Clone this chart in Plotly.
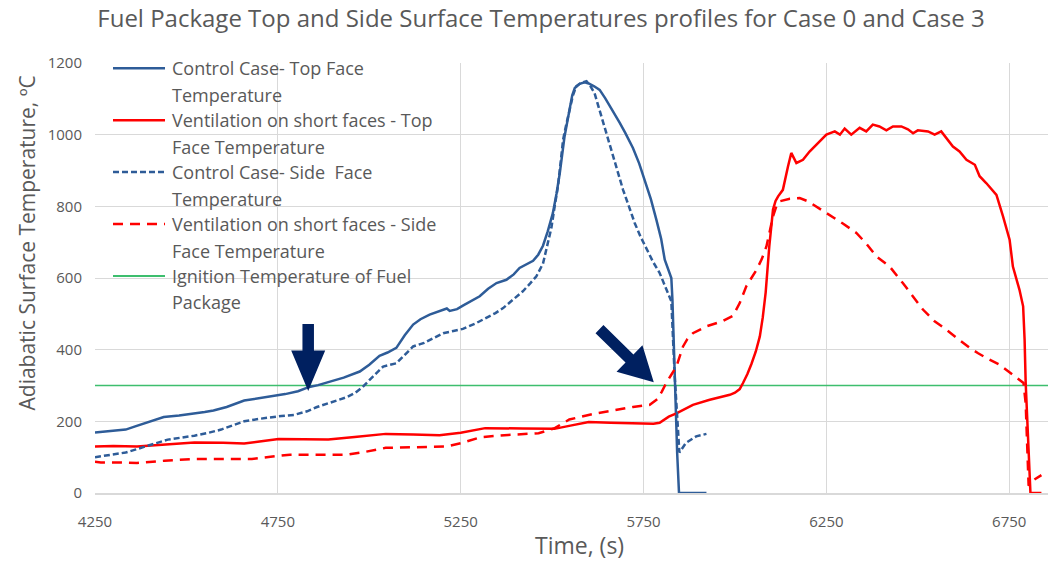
import math
import plotly.graph_objects as go

# ---------------------------------------------------------------- data
# Control case (Case 0) - top face surface temperature
control_top_time = [4250, 4290, 4334, 4360, 4386, 4410, 4438, 4480, 4522, 4550, 4574,
                    4610, 4658, 4700, 4731, 4770, 4805, 4836, 4860, 4892, 4930, 4974,
                    5000, 5028, 5050, 5074, 5097, 5120, 5140, 5165, 5185, 5202, 5212,
                    5220, 5240, 5256, 5280, 5302, 5325, 5348, 5375, 5395, 5411, 5430,
                    5448, 5462, 5475, 5488, 5502, 5512, 5521, 5534, 5548, 5555, 5562,
                    5575, 5589, 5600, 5615, 5630, 5645, 5662, 5685, 5700, 5721, 5738,
                    5753, 5770, 5785, 5798, 5808, 5818, 5826, 5829, 5836, 5842, 5847,
                    5922]
control_top_temp = [169, 172, 177, 186, 195, 204, 212, 216, 221, 226, 230,
                    240, 258, 264, 270, 276, 284, 296, 301, 311, 322, 339,
                    358, 383, 392, 405, 440, 470, 485, 498, 505, 512, 515,
                    508, 513, 523, 536, 549, 570, 586, 595, 610, 628, 638,
                    648, 665, 690, 730, 781, 835, 893, 995, 1079, 1110, 1130,
                    1142, 1146, 1143, 1135, 1125, 1102, 1074, 1033, 1005, 963, 920,
                    874, 820, 763, 710, 651, 620, 600, 540, 300, 110, 0,
                    0]

# Control case (Case 0) - side face surface temperature
control_side_time = [4250, 4290, 4334, 4360, 4386, 4420, 4449, 4490, 4522, 4560, 4595,
                     4630, 4658, 4700, 4731, 4760, 4794, 4830, 4857, 4892, 4915, 4940,
                     4962, 4982, 5010, 5038, 5074, 5097, 5120, 5150, 5175, 5202, 5230,
                     5256, 5290, 5320, 5345, 5366, 5395, 5420, 5440, 5457, 5475, 5487,
                     5498, 5507, 5516, 5523, 5530, 5539, 5548, 5557, 5566, 5580, 5594,
                     5605, 5616, 5627, 5639, 5652, 5666, 5680, 5694, 5710, 5726, 5742,
                     5758, 5776, 5794, 5810, 5826, 5835, 5848, 5866, 5894, 5922]
control_side_temp = [100, 106, 113, 121, 130, 140, 149, 155, 160, 168, 177,
                     190, 200, 207, 212, 215, 218, 228, 240, 251, 259, 268,
                     280, 296, 325, 353, 362, 386, 409, 419, 432, 446, 452,
                     458, 473, 488, 502, 516, 540, 563, 585, 605, 640, 690,
                     740, 800, 856, 920, 986, 1030, 1070, 1110, 1135, 1145, 1149,
                     1135, 1116, 1078, 1037, 988, 939, 892, 846, 800, 753, 715,
                     680, 645, 614, 575, 535, 330, 113, 140, 158, 165]

# Ventilation on short faces (Case 3) - top face surface temperature
vent_top_time = [4250, 4300, 4365, 4450, 4522, 4600, 4658, 4700, 4752, 4820, 4888,
                 4960, 5045, 5120, 5192, 5250, 5317, 5420, 5506, 5550, 5600, 5660,
                 5712, 5777, 5794, 5819, 5840, 5860, 5885, 5931, 5960, 5986, 6000,
                 6013, 6022, 6034, 6045, 6057, 6068, 6076, 6084, 6094, 6104, 6111,
                 6118, 6131, 6145, 6154, 6168, 6186, 6204, 6218, 6232, 6250, 6273,
                 6287, 6300, 6318, 6341, 6359, 6377, 6395, 6414, 6432, 6455, 6473,
                 6487, 6500, 6528, 6546, 6564, 6578, 6596, 6614, 6633, 6656, 6669,
                 6687, 6705, 6715, 6733, 6751, 6760, 6778, 6788, 6792, 6795, 6801,
                 6808, 6838]
vent_top_temp = [130, 131, 130, 136, 141, 140, 138, 144, 151, 150, 149,
                 156, 165, 163, 161, 168, 181, 180, 179, 188, 198, 196,
                 195, 193, 196, 213, 222, 232, 246, 260, 267, 274, 280,
                 290, 307, 332, 360, 395, 437, 490, 560, 690, 791, 815,
                 828, 846, 911, 949, 921, 930, 953, 968, 981, 1000, 1009,
                 1000, 1017, 1000, 1019, 1009, 1028, 1023, 1012, 1023, 1023, 1015,
                 1004, 1012, 1009, 1000, 1009, 991, 967, 953, 930, 916, 884,
                 865, 845, 832, 772, 707, 632, 567, 521, 428, 307, 167,
                 0, 0]

# Ventilation on short faces (Case 3) - side face surface temperature
vent_side_time = [4250, 4266, 4320, 4365, 4440, 4522, 4600, 4679, 4730, 4783, 4860,
                  4940, 4990, 5045, 5130, 5213, 5254, 5306, 5380, 5463, 5505, 5547,
                  5610, 5673, 5721, 5767, 5788, 5800, 5812, 5826, 5840, 5858, 5870,
                  5885, 5922, 5967, 5995, 6013, 6031, 6045, 6059, 6073, 6086, 6095,
                  6104, 6113, 6122, 6150, 6177, 6200, 6225, 6250, 6295, 6332, 6360,
                  6387, 6423, 6459, 6485, 6514, 6545, 6578, 6610, 6642, 6665, 6687,
                  6724, 6760, 6789, 6795, 6803, 6815, 6838]
vent_side_temp = [87, 85, 85, 84, 90, 95, 95, 95, 101, 107, 107,
                  107, 115, 126, 128, 130, 140, 156, 162, 167, 180, 205,
                  220, 232, 240, 246, 262, 283, 307, 330, 353, 409, 430,
                  446, 465, 480, 495, 530, 577, 600, 623, 652, 688, 730,
                  772, 800, 814, 821, 823, 814, 798, 781, 752, 726, 695,
                  660, 632, 586, 550, 512, 480, 456, 430, 405, 390, 377,
                  358, 330, 307, 250, 20, 35, 50]

IGNITION_TEMP = 300

series_names = [
    "Control Case- Top Face<br>Temperature",
    "Ventilation on short faces - Top<br>Face Temperature",
    "Control Case- Side  Face<br>Temperature",
    "Ventilation on short faces - Side<br>Face Temperature",
    "Ignition Temperature of Fuel<br>Package",
]

x_ticks = [4250, 4750, 5250, 5750, 6250, 6750]
y_ticks = [0, 200, 400, 600, 800, 1000, 1200]

# Points where the surface reaches the ignition temperature (arrow tips)
ignition_marks_time = [4833, 5778]
ignition_marks_temp = [285, 309]

# ---------------------------------------------------------------- styling
W, H = 1051, 563
M_L, M_R, M_T, M_B = 95, 3, 63, 70
X_RANGE = [4250, 6856]
Y_RANGE = [0, 1200]

BLUE = "#2E5C98"
RED = "#FF0000"
GREEN = "#3DBE6E"
NAVY = "#002060"
TEXT = "#595959"
GRID = "#D9D9D9"
FONT = "Open Sans, Liberation Sans, sans-serif"

styles = [
    dict(color=BLUE, width=2.5, dash="solid"),
    dict(color=RED, width=2.5, dash="solid"),
    dict(color=BLUE, width=2.5, dash="6px,3px"),
    dict(color=RED, width=2.5, dash="10px,7px"),
    dict(color=GREEN, width=1.5, dash="solid"),
]

plot_w = W - M_L - M_R
plot_h = H - M_T - M_B


def px_x(px):
    """Pixel column -> paper fraction of the plot area."""
    return (px - M_L) / plot_w


def px_y(py):
    """Pixel row (from top) -> paper fraction of the plot area."""
    return (H - M_B - py) / plot_h


def block_arrow(direction_deg, length, head_len, head_w, shaft_w):
    """Closed SVG path (pixels, y up) of a block arrow whose tip is at the origin."""
    a = math.radians(direction_deg)
    ux, uy = -math.cos(a), -math.sin(a)      # tip -> tail
    px, py = -uy, ux                        # perpendicular
    bx, by = ux * head_len, uy * head_len    # head base centre
    tx, ty = ux * length, uy * length        # tail centre
    pts = [
        (0, 0),
        (bx + px * head_w / 2, by + py * head_w / 2),
        (bx + px * shaft_w / 2, by + py * shaft_w / 2),
        (tx + px * shaft_w / 2, ty + py * shaft_w / 2),
        (tx - px * shaft_w / 2, ty - py * shaft_w / 2),
        (bx - px * shaft_w / 2, by - py * shaft_w / 2),
        (bx - px * head_w / 2, by - py * head_w / 2),
    ]
    return "M" + " L".join(f"{x:.2f},{y:.2f}" for x, y in pts) + " Z"


# ---------------------------------------------------------------- figure
fig = go.Figure()

# Ignition temperature reference line (drawn first, under the curves)
fig.add_trace(go.Scatter(
    x=X_RANGE, y=[IGNITION_TEMP, IGNITION_TEMP], mode="lines",
    name=series_names[4].replace("<br>", " "),
    line=dict(color=styles[4]["color"], width=styles[4]["width"]),
    showlegend=False,
))

curves = [
    (control_top_time, control_top_temp),
    (vent_top_time, vent_top_temp),
    (control_side_time, control_side_temp),
    (vent_side_time, vent_side_temp),
]
for (t, temp), name, st in zip(curves, series_names, styles):
    fig.add_trace(go.Scatter(
        x=t, y=temp, mode="lines", name=name.replace("<br>", " "),
        line=dict(color=st["color"], width=st["width"], dash=st["dash"]),
        showlegend=False,
    ))

shapes = []
annotations = []

# Block arrows marking the ignition points
arrow_geom = [
    dict(direction_deg=-90, length=67, head_len=40.5, head_w=34, shaft_w=11.5),
    dict(direction_deg=-44.4, length=76, head_len=34, head_w=37, shaft_w=11.3),
]
for t, temp, g in zip(ignition_marks_time, ignition_marks_temp, arrow_geom):
    shapes.append(dict(
        type="path", xref="x", yref="y", xsizemode="pixel", ysizemode="pixel",
        xanchor=t, yanchor=temp, path=block_arrow(**g),
        fillcolor=NAVY, line=dict(width=0), layer="above",
    ))

# Legend drawn inside the plot area, top-left (one row per series, wrapped text)
LEG_X0, LEG_X1, LEG_TX = 113, 165, 170
LEG_Y0, LEG_STEP, LEG_LINE = 68.3, 51.9, 26.5
for i, (name, st) in enumerate(zip(series_names, styles)):
    yrow = LEG_Y0 + i * LEG_STEP
    shapes.append(dict(
        type="line", xref="paper", yref="paper",
        x0=px_x(LEG_X0), x1=px_x(LEG_X1), y0=px_y(yrow), y1=px_y(yrow),
        line=dict(color=st["color"], width=max(st["width"], 2), dash=st["dash"]),
    ))
    for j, line_txt in enumerate(name.split("<br>")):
        annotations.append(dict(
            xref="paper", yref="paper", x=px_x(LEG_TX), y=px_y(yrow + j * LEG_LINE),
            xanchor="left", yanchor="middle", text=line_txt, showarrow=False,
            font=dict(family=FONT, size=18, color=TEXT),
        ))

# Axis titles
annotations.append(dict(
    xref="paper", yref="paper", x=px_x(26), y=px_y(243.5), textangle=-90,
    xanchor="center", yanchor="middle", showarrow=False,
    text="Adiabatic Surface Temperature, ºC",
    font=dict(family=FONT, size=21, color=TEXT),
))
annotations.append(dict(
    xref="paper", yref="paper", x=px_x(579), y=px_y(545),
    xanchor="center", yanchor="middle", showarrow=False,
    text="Time, (s)", font=dict(family=FONT, size=23, color=TEXT),
))

fig.update_layout(
    width=W, height=H,
    margin=dict(l=M_L, r=M_R, t=M_T, b=M_B),
    paper_bgcolor="white", plot_bgcolor="white",
    title=dict(
        text="Fuel Package Top and Side Surface Temperatures profiles for Case 0 and Case 3",
        x=541 / W, xref="container", xanchor="center",
        y=1 - 19 / H, yref="container", yanchor="middle",
        font=dict(family=FONT, size=24, color=TEXT),
    ),
    shapes=shapes,
    annotations=annotations,
    showlegend=False,
)

fig.update_xaxes(
    range=X_RANGE, tickvals=x_ticks, ticktext=[str(v) for v in x_ticks],
    showgrid=True, gridcolor=GRID, gridwidth=1,
    showline=True, linecolor=GRID, linewidth=1.5,
    zeroline=False, ticks="", ticklabelstandoff=14,
    tickfont=dict(family=FONT, size=15, color=TEXT),
)
fig.update_yaxes(
    range=Y_RANGE, tickvals=y_ticks, ticktext=[str(v) for v in y_ticks],
    showgrid=True, gridcolor=GRID, gridwidth=1,
    showline=False, zeroline=False, ticks="", ticklabelstandoff=12,
    tickfont=dict(family=FONT, size=15, color=TEXT),
)

fig.write_html("out.html")
